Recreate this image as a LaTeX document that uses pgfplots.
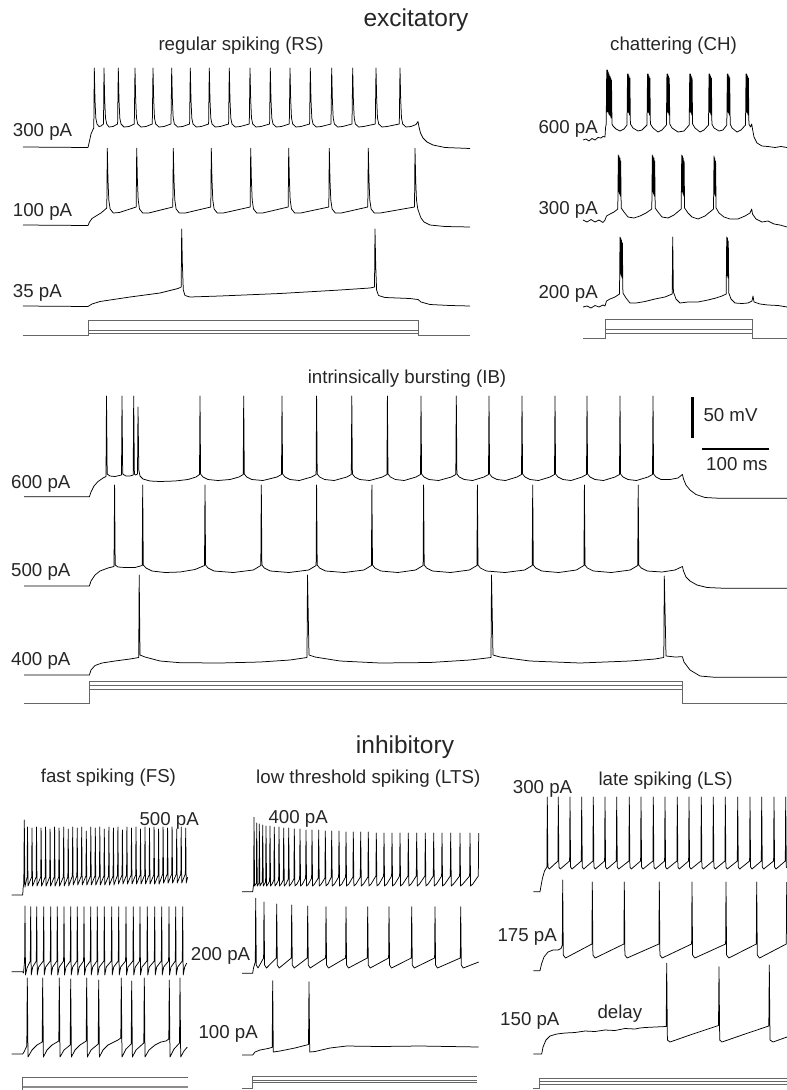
\documentclass[border=0pt]{standalone}
\usepackage{pgfplots}
\pgfplotsset{compat=1.18}
\usepackage{fontspec}
\setmainfont{Liberation Sans}
\tikzset{
  tr/.style={black, line width=0.75pt, line join=round},
  st/.style={black!60, line width=0.75pt, line join=miter},
  lab/.style={text=black!85, font=\fontsize{18.7}{22}\selectfont, inner sep=0pt},
  big/.style={text=black!85, font=\fontsize{24.5}{28}\selectfont, inner sep=0pt}
}
\begin{document}
\begin{tikzpicture}
\useasboundingbox (0,0) rectangle (787pt,1090pt);
\begin{axis}[at={(0pt,0pt)}, anchor=south west, width=787pt, height=1090pt, scale only axis,
  xmin=0, xmax=787, ymin=0, ymax=1090, y dir=reverse, hide axis, clip=false]
% ---------------- titles ----------------
\node[big, anchor=base] at (axis cs:416,26) {excitatory};
\node[lab, anchor=base west] at (axis cs:158.3,50.7) {regular spiking (RS)};
\node[lab, anchor=base west] at (axis cs:610,50.7) {chattering (CH)};
\node[lab, anchor=base] at (axis cs:407,383.5) {intrinsically bursting (IB)};
\node[big, anchor=base] at (axis cs:405,753) {inhibitory};
\node[lab, anchor=base west] at (axis cs:40.7,782.7) {fast spiking (FS)};
\node[lab, anchor=base west] at (axis cs:256,783.3) {low threshold spiking (LTS)};
\node[lab, anchor=base west] at (axis cs:598.3,785) {late spiking (LS)};
% ---------------- labels ----------------
\node[lab, anchor=base west] at (axis cs:12.7,136) {300 pA};
\node[lab, anchor=base west] at (axis cs:12.7,216) {100 pA};
\node[lab, anchor=base west] at (axis cs:12.7,297.7) {35 pA};
\node[lab, anchor=base west] at (axis cs:538.3,133.3) {600 pA};
\node[lab, anchor=base west] at (axis cs:538.3,214) {300 pA};
\node[lab, anchor=base west] at (axis cs:538.3,298.3) {200 pA};
\node[lab, anchor=base west] at (axis cs:11,488.3) {600 pA};
\node[lab, anchor=base west] at (axis cs:11,576.7) {500 pA};
\node[lab, anchor=base west] at (axis cs:11,665.7) {400 pA};
\node[lab, anchor=base west] at (axis cs:703.3,421.7) {50 mV};
\node[lab, anchor=base west] at (axis cs:706,470.7) {100 ms};
\node[lab, anchor=base west] at (axis cs:139.3,825) {500 pA};
\node[lab, anchor=base west] at (axis cs:190.7,960) {200 pA};
\node[lab, anchor=base west] at (axis cs:198.3,1038.3) {100 pA};
\node[lab, anchor=base west] at (axis cs:268.3,823.3) {400 pA};
\node[lab, anchor=base west] at (axis cs:512.7,793.3) {300 pA};
\node[lab, anchor=base west] at (axis cs:497.3,941.7) {175 pA};
\node[lab, anchor=base west] at (axis cs:500,1025) {150 pA};
\node[lab, anchor=base west] at (axis cs:597.3,1018.3) {delay};
% ---------------- scale bars ----------------
\addplot[black, line width=2.7pt] coordinates {(692.3,397.3) (692.3,438.3)};
\addplot[black, line width=2.7pt] coordinates {(702.3,449) (769.3,449)};
% ================= RS =================
\addplot[tr] coordinates {(23,147)(88,147.5)(89.5,141)(91,134)(93,129.5)(93.8,128)
(94.3,68)(95,100)(95.8,118)(97,124)(99,126.5)(101,126)(103.5,124)
(104,68)(104.7,100)(105.5,118)(106.7,124)(109,127)(113,126.5)(117.6,124)
(118.3,68)(119,100)(119.8,118)(121,124)(124,127)(129,126.5)(134.3,124)
(135,68)(135.7,100)(136.5,118)(137.7,124)(141,127)(146,126.5)(152.3,124)
(153,68)(153.7,100)(154.5,118)(155.7,124)(159,127)(164,126.5)(171,124)
(171.7,68)(172.4,100)(173.2,118)(174.4,124)(177.7,127)(182.7,126.5)(189.6,124)
(190.3,68)(191,100)(191.8,118)(193,124)(196.3,127)(201.3,126.5)(208.6,124)
(209.3,68)(210,100)(210.8,118)(212,124)(215.3,127)(220.3,126.5)(228.6,124)
(229.3,68)(230,100)(230.8,118)(232,124)(235.3,127)(240.3,126.5)(249.3,124)
(250,68)(250.7,100)(251.5,118)(252.7,124)(256,127)(261,126.5)(269.6,124)
(270.3,68)(271,100)(271.8,118)(273,124)(276.3,127)(281.3,126.5)(289.3,124)
(290,68)(290.7,100)(291.5,118)(292.7,124)(296,127)(301,126.5)(309.6,124)
(310.3,68)(311,100)(311.8,118)(313,124)(316.3,127)(321.3,126.5)(331,124)
(331.7,68)(332.4,100)(333.2,118)(334.4,124)(337.7,127)(342.7,126.5)(352,124)
(352.7,68)(353.4,100)(354.2,118)(355.4,124)(358.7,127)(363.7,126.5)(375.3,124)
(376,68)(376.7,100)(377.5,118)(378.7,124)(382,127)(387,126.5)(399.3,124)
(400,68)(400.7,100)(401.5,118)(402.7,124)(406,127)(411,126.5)(416,124.5)(418,121.5)(419,127)(420.5,133)(423,138)(427,142)(433,145)(445,147.5)(470,148.5)};
\addplot[tr] coordinates {(23,225)(88,225.5)(89.5,222)(92,218.5)(96,216)(101,213)(106.8,208)
(107.3,148.3)(108,180)(108.8,200)(110.1,209)(113.3,213)(119.3,212.5)(136.2,207)
(136.7,148.3)(137.4,180)(138.2,200)(139.5,209)(142.7,213)(148.7,213)(172.8,207)
(173.3,148.3)(174,180)(174.8,200)(176.1,209)(179.3,213)(185.3,213)(210.8,207)
(211.3,148.3)(212,180)(212.8,200)(214.1,209)(217.3,213)(223.3,213)(250.2,207)
(250.7,148.3)(251.4,180)(252.2,200)(253.5,209)(256.7,213)(262.7,213)(288.2,207)
(288.7,148.3)(289.4,180)(290.2,200)(291.5,209)(294.7,213)(300.7,213)(328.8,207)
(329.3,148.3)(330,180)(330.8,200)(332.1,209)(335.3,213)(341.3,213)(367.8,207)
(368.3,148.3)(369,180)(369.8,200)(371.1,209)(374.3,213)(380.3,213)(414.5,207)
(415,148.3)(415.7,180)(416.5,200)(417.8,209)(419.5,214)(421,218)(424,222)(430,225)(445,226.5)(470,227)};
\addplot[tr] coordinates {(23,306)(88,306.5)(92,304)(100,301.5)(130,297)(160,293)(178,288.5)(181.2,287)
(181.7,229)(182.4,265)(183.3,290)(185,295.5)(190,297)(220,296)(280,293.5)(340,290)(370,288)(374.5,287)
(375,229)(375.7,265)(376.6,290)(378.5,295.5)(385,297.5)(410,298.5)(418,299.5)(421,302)(430,304.5)(450,305.5)(470,306)};
\addplot[st] coordinates {(23,335)(88.3,335)(88.3,320)(418.3,320)(418.3,335)(470,335)};
\addplot[st] coordinates {(88.3,330)(418.3,330)};
\addplot[st] coordinates {(88.3,333.5)(418.3,333.5)};
% ================= CH =================
\addplot[tr] coordinates {(583,140)(586,139)(589,141)(592,138.5)(595,140)(598,137.5)(601,138)(603,136.5)(605,137)(605.5,128)(606.2,124)
(606.7,70)(607.1,112)(607.5,70)(607.9,112)(608.3,72)(608.7,114)(609.1,74)(609.5,115)(609.9,76)(610.3,116)(610.7,78)(611.1,118)(611.5,80)(612,124)(613,126)(616,129)(620,131)(624,129)(627,125)
(627.5,74)(627.9,112)(628.3,74)(628.7,113)(629.1,76)(629.5,115)(629.9,78)(630.4,124)(633,128)(638,131)(642,130)(647,125)
(647.5,74)(647.9,112)(648.3,74)(648.7,113)(649.1,76)(649.5,115)(649.9,78)(650.4,124)(653,128)(658,132)(662,130)(666.4,125)
(666.9,74)(667.3,112)(667.7,74)(668.1,113)(668.5,76)(668.9,115)(669.3,78)(669.8,124)(672,128)(678,132)(684,131)(689.2,125)
(689.7,74)(690.1,112)(690.5,74)(690.9,113)(691.3,76)(691.7,115)(692.1,78)(692.6,124)(695,128)(700,132)(704,130)(708.5,125)
(709,74)(709.4,112)(709.8,74)(710.2,113)(710.6,76)(711,115)(711.4,78)(711.9,124)(714,128)(719,131)(723,130)(726.8,125)
(727.3,74)(727.7,112)(728.1,74)(728.5,113)(728.9,76)(729.3,115)(729.7,78)(730.2,124)(732,128)(737,132)(741,130)(745.5,125)
(746,74)(746.4,112)(746.8,74)(747.2,113)(747.6,76)(748,115)(748.4,78)(748.9,124)(750.5,127)(751.7,124)(752.5,129)(754,137)(757,143)(762,146)(768,146.5)(775,147.5)(781,146.5)(787,147.5)};
\addplot[tr] coordinates {(583,220)(587,222)(591,219.5)(595,222)(599,220)(603,222.5)(605,220)(606.5,216)(610,214)(614,212)(617.8,209)
(618.3,155)(618.7,192)(619.1,156)(619.5,194)(619.9,158)(620.3,196)(620.7,161)(621.2,208)(624,212)(628,217)(634,218)(640,216)(646,213)(651.8,209)
(652.3,155)(652.7,192)(653.1,156)(653.5,194)(653.9,158)(654.3,196)(654.7,161)(655.2,208)(658,212)(662,217)(668,218)(674,215)(681.2,209)
(681.7,155)(682.1,192)(682.5,156)(682.9,194)(683.3,158)(683.7,196)(684.1,161)(684.6,208)(688,213)(692,217)(698,219)(705,216)(713.5,209)
(714,156)(714.4,194)(714.8,158)(715.2,196)(715.6,161)(716.1,208)(719,213)(724,217)(730,219)(738,219)(745,216)(750,213)(751.7,209)(752.5,214)(756,219)(762,222)(768,221)(774,224)(780,225)(787,227)};
\addplot[tr] coordinates {(583,307)(587,306)(591,308)(595,305.5)(599,307)(603,305)(605,306)(606.5,301)(610,299)(615,297)(619.5,294)
(620,237)(620.4,274)(620.8,238)(621.2,276)(621.6,240)(622,278)(622.4,243)(622.9,293)(626,298)(630,303)(636,303)(645,301.5)(655,299)(665,297)(672.2,294)
(672.7,237)(673.4,292)(676,299)(680,303)(688,302)(698,302)(708,300)(716,298)(722,296)(726.2,294)
(726.7,237)(727.1,276)(727.5,238)(727.9,278)(728.3,241)(728.8,293)(731,299)(735,303)(742,303.5)(748,303)(752,301)(753,296)(754,302)(760,304)(768,305)(778,305.5)(787,307)};
\addplot[st] coordinates {(583,338.3)(605,338.3)(605,319.3)(752.3,319.3)(752.3,338.3)(787,338.3)};
\addplot[st] coordinates {(605,329.3)(752.3,329.3)};
\addplot[st] coordinates {(605,333.3)(752.3,333.3)};
% ================= IB =================
\addplot[tr] coordinates {(24,496.7)(89.4,496.7)(91,492)(94,486)(98,481.5)(103,478)(106,476.5)
(106.5,396)(107.2,474)(110,476)(115,476.5)(121.5,475)
(122,396)(122.7,474)(126,476)(130,476)(133.2,475)
(133.7,396)(134.4,474)(135.5,475)(137.5,474)
(138,407)(138.8,470)(140,476)(143,479)(150,481)(160,481.5)(175,481)(188,479.5)(196,477)(199.5,474.5)
(200,396)(200.6,474)(203,477)(208,479.5)(218,480.5)(230,479.5)(239,477)(243.2,474.5)
(243.7,396)(244.3,474)(246.7,477)(251.7,479.5)(262.9,480.5)(277,477)(281.5,474.5)
(282,396)(282.6,474)(285,477)(290,479.5)(299.3,480.5)(311.6,477)(316.1,474.5)
(316.6,396)(317.2,474)(319.6,477)(324.6,479.5)(334.2,480.5)(346.8,477)(351.3,474.5)
(351.8,396)(352.4,474)(354.8,477)(359.8,479.5)(369.6,480.5)(382.4,477)(386.9,474.5)
(387.4,396)(388,474)(390.4,477)(395.4,479.5)(404.2,480.5)(416,477)(420.5,474.5)
(421,396)(421.6,474)(424,477)(429,479.5)(438.6,480.5)(451.3,477)(455.8,474.5)
(456.3,396)(456.9,474)(459.3,477)(464.3,479.5)(472.6,480.5)(484,477)(488.5,474.5)
(489,396)(489.6,474)(492,477)(497,479.5)(505.5,480.5)(517,477)(521.5,474.5)
(522,396)(522.6,474)(525,477)(530,479.5)(538.5,480.5)(550,477)(554.5,474.5)
(555,396)(555.6,474)(558,477)(563,479.5)(571,480.5)(582,477)(586.5,474.5)
(587,396)(587.6,474)(590,477)(595,479.5)(603.5,480.5)(615,477)(619.5,474.5)
(620,396)(620.6,474)(623,477)(628,479.5)(636.5,480.5)(648,477)(652.5,474.5)
(653,396)(653.6,474)(656,477)(661,479.5)(670,479.5)(678,478)(682.4,474.5)(683.5,479)(686,485)(690,490)(696,494.5)(705,497.5)(720,498.3)(787,498.3)};
\addplot[tr] coordinates {(24,586)(89.4,586)(91,581)(95,575)(100,571)(108,568)(114,566.5)
(114.6,485)(115.2,565)(118,567)(125,567.5)(135,567.5)(142.2,565.5)
(142.7,485)(143.3,565)(146,568)(152,571)(165,572.5)(180,572)(195,569.5)(204.5,565.5)
(205,485)(205.6,565)(208,568)(214,571)(233.2,572.5)(253.3,570)(260.8,565.5)
(261.3,485)(261.9,565)(264.3,568)(270.3,571)(289,572.5)(308.6,570)(316.1,565.5)
(316.6,485)(317.2,565)(319.6,568)(325.6,571)(344.3,572.5)(363.9,570)(371.4,565.5)
(371.9,485)(372.5,565)(374.9,568)(380.9,571)(397.8,572.5)(415.6,570)(423.1,565.5)
(423.6,485)(424.2,565)(426.6,568)(432.6,571)(450.5,572.5)(469.4,570)(476.9,565.5)
(477.4,485)(478,565)(480.4,568)(486.4,571)(505,572.5)(524.7,570)(532.2,565.5)
(532.7,485)(533.3,565)(535.7,568)(541.7,571)(558.6,572.5)(576.4,570)(583.9,565.5)
(584.4,485)(585,565)(587.4,568)(593.4,571)(611.3,572.5)(630.2,570)(637.7,565.5)
(638.2,485)(638.8,565)(641.2,568)(647.2,571)(662,572)(675,570)(682.4,566.5)(683.5,571)(686,577)(690,581)(697,585)(707,587.5)(725,588.3)(787,588.3)};
\addplot[tr] coordinates {(24,675)(89.4,675)(91,670)(95,665.5)(102,663)(115,661)(130,659)(138.7,657.5)
(139.2,575)(140,655)(145,657)(160,661)(180,662.7)(220,663)(260,662)(290,660)(307,657.5)
(307.5,575)(309,655)(315,657)(340,661)(380,663)(430,662.5)(470,660)(491,657.5)
(491.5,575)(493,655)(500,657)(530,661)(580,663)(630,661)(655,659)(663.8,657.5)
(664.3,576)(666,656)(675,657)(682.4,656.7)(684,662)(690,670)(700,676)(715,677.3)(787,677.3)};
\addplot[st] coordinates {(24,703.3)(89.4,703.3)(89.4,681)(682.4,681)(682.4,703.3)(787,703.3)};
\addplot[st] coordinates {(89.4,685)(682.4,685)};
\addplot[st] coordinates {(89.4,689.3)(682.4,689.3)};
% ================= FS =================
\addplot[tr] coordinates {(11.7,895)(22.7,895)(23.2,887)(23.8,884)(24.3,820)(24.9,887)
(27.15,877)(27.5,827)(28,886)(31.65,877)(32,828)(32.5,886)(36.15,877)(36.5,827)(37,886)
(40.75,877)(41.1,828)(41.6,886)(45.25,877)(45.6,827)(46.1,886)(49.75,877)(50.1,829)(50.6,886)
(54.25,877)(54.6,827)(55.1,886)(58.75,877)(59.1,828)(59.6,886)(63.35,877)(63.7,827)(64.2,886)
(67.85,877)(68.2,829)(68.7,886)(72.35,876)(72.7,827)(73.2,885)(76.85,876)(77.2,828)(77.7,885)
(81.35,876)(81.7,827)(82.2,885)(85.95,876)(86.3,831)(86.8,885)(90.45,876)(90.8,827)(91.3,885)
(94.95,876)(95.3,828)(95.8,885)(99.45,876)(99.8,827)(100.3,885)(103.95,876)(104.3,829)(104.8,885)
(108.55,876)(108.9,827)(109.4,885)(113.05,876)(113.4,828)(113.9,885)(117.55,875)(117.9,827)(118.4,884)
(122.05,875)(122.4,830)(122.9,884)(126.55,875)(126.9,827)(127.4,884)(131.15,875)(131.5,828)(132,884)
(135.65,875)(136,827)(136.5,884)(140.15,875)(140.5,829)(141,884)(144.65,875)(145,827)(145.5,884)
(149.15,875)(149.5,828)(150,884)(153.75,875)(154.1,827)(154.6,884)(158.25,875)(158.6,829)(159.1,884)
(162.75,874)(163.1,827)(163.6,883)(167.25,874)(167.6,828)(168.1,883)(171.75,874)(172.1,827)(172.6,883)
(176.35,874)(176.7,829)(177.2,883)(180.85,874)(181.2,827)(181.7,883)(185.35,874)(185.7,828)(186.2,883)(187.7,877)};
\addplot[tr] coordinates {(11.7,971.7)(22.7,971.7)(23.5,973)
(24.6,961)(25,906)(25.5,975)(27,968)(30.3,961)(30.7,906.7)(31.2,975)(32.7,967)
(36.3,961)(36.7,906.7)(37.2,975)(38.7,967)(43.3,961)(43.7,906.7)(44.2,975)(45.7,967)
(50.3,961)(50.7,906.7)(51.2,975)(52.7,967)(56.9,961)(57.3,906.7)(57.8,975)(59.3,967)
(63.6,961)(64,906.7)(64.5,975)(66,967)(70.3,961)(70.7,906.7)(71.2,975)(72.7,967)
(76.9,961)(77.3,906.7)(77.8,975)(79.3,967)(83.6,961)(84,906.7)(84.5,975)(86,967)
(90.3,961)(90.7,906.7)(91.2,975)(92.7,967)(96.9,961)(97.3,906.7)(97.8,975)(99.3,967)
(103.9,961)(104.3,906.7)(104.8,975)(106.3,967)(111.3,961)(111.7,906.7)(112.2,975)(113.7,967)
(118.3,961)(118.7,906.7)(119.2,975)(120.7,967)(125.6,961)(126,906.7)(126.5,975)(128,967)
(132.9,961)(133.3,906.7)(133.8,975)(135.3,967)(139.6,961)(140,906.7)(140.5,975)(142,967)
(146.9,961)(147.3,906.7)(147.8,975)(149.3,967)(154.3,961)(154.7,906.7)(155.2,975)(156.7,967)
(161.3,961)(161.7,906.7)(162.2,975)(163.7,967)(168.6,961)(169,906.7)(169.5,975)(171,967)
(175.3,961)(175.7,906.7)(176.2,975)(177.7,967)(182.3,961)(182.7,906.7)(183.2,975)(184.7,967)(186.7,963)};
\addplot[tr] coordinates {(11.7,1054)(22.7,1054)(24,1052)(26.8,1046)
(27.3,978)(28,1057)(32,1050)(37,1045)(42.2,1042)
(42.7,978)(43.4,1057)(47,1050)(52,1045)(58.8,1041)
(59.3,978)(60,1057)(64,1050)(70.2,1045)
(70.7,979)(71.4,1057)(75,1050)(80,1045)(86.2,1041)
(86.7,978)(87.4,1057)(91,1050)(98.2,1044)
(98.7,980)(99.4,1057)(103,1050)(108,1045)(114,1042)(118,1040)(120.8,1038)
(121.3,978)(122,1057)(126,1049)(131.2,1044)
(131.7,981)(132.4,1057)(136,1050)(143.8,1043)
(144.3,978)(145,1057)(149,1050)(155,1045)(161,1042)(166,1041)(168.8,1039)
(169.3,980)(170,1057)(174,1049)(179.5,1043)
(180,978)(180.7,1057)(184,1051)(187.3,1047)};
\addplot[st] coordinates {(22.7,1090)(22.7,1077.3)(188.3,1077.3)};
\addplot[black!45, line width=1.6pt] coordinates {(22.7,1086.7)(188.3,1086.7)};
% ================= LTS =================
\addplot[tr] coordinates {(242,891.7)(252.7,891.7)(253.3,887)(253.7,884)
(254,817.3)(254.6,886)(256.4,883)(256.7,823)(257.3,886)(259,883)(259.3,824)(259.9,886)(262.3,882)
(262.7,825)(263.3,886)(265.6,882)(266,826)(266.6,886)(268,884)(269.6,881)
(270,826)(270.6,886)(272,884)(273.9,880)(274.3,827)(274.9,886)(276.5,884)(278.6,880)
(279,827)(279.6,886)(281.2,884)(283.3,880)(283.7,828)(284.3,886)(286,884)(288.3,879)
(288.7,828)(289.3,886)(291,884)(293.9,879)(294.3,829)(294.9,886)(297,884)(299.6,879)
(300,829)(300.6,886)(302.5,884)(305.6,878)(306,830)(306.6,886)(308.5,884)(311.6,878)
(312,830)(312.6,886)(314.5,884)(318.3,878)(318.7,830)(319.3,886)(321.3,884)(324.9,878)
(325.3,831)(325.9,886)(328,884)(331.3,877)(331.7,831)(332.3,886)(334.5,884)(338.6,877)
(339,831)(339.6,886)(341.8,884)(345.6,877)(346,832)(346.6,886)(348.8,884)(352.9,877)
(353.3,832)(353.9,886)(356.1,884)(360.3,877)(360.7,832)(361.3,886)(363.5,884)(367.9,877)
(368.3,832)(368.9,886)(371.1,884)(375.9,876)(376.3,833)(376.9,886)(379.1,884)(383.6,876)
(384,833)(384.6,886)(386.8,884)(391.6,876)(392,833)(392.6,886)(394.8,884)(399.6,876)
(400,833)(400.6,886)(402.8,884)(407.9,876)(408.3,833)(408.9,886)(411.1,884)(416.3,876)
(416.7,833)(417.3,886)(419.5,884)(424.9,876)(425.3,833)(425.9,886)(428.1,884)(433.3,876)
(433.7,833)(434.3,886)(436.5,884)(441.6,876)(442,833)(442.6,886)(444.8,884)(450.3,876)
(450.7,833)(451.3,886)(453.5,884)(459.6,876)(460,833)(460.6,886)(462.8,884)(469.6,876)
(470,833)(470.6,886)(472.8,884)(478.3,876)(478.7,833)};
\addplot[tr] coordinates {(242,973.3)(252.7,973.3)(253.5,968)(255.3,962)
(255.7,898.3)(256.3,965)(258,968)(263.6,958)
(264,902)(264.6,965)(266.5,968)(276.3,958)
(276.7,904)(277.3,965)(279.2,968)(291.3,958)
(291.7,905)(292.3,965)(294.2,968)(307.3,958)
(307.7,906)(308.3,965)(310.2,968)(325.6,958)
(326,906.7)(326.6,965)(328.5,968)(345.6,958)
(346,906.7)(346.6,965)(348.5,968)(367.3,958)
(367.7,906.7)(368.3,965)(370.2,968)(388.6,958)
(389,906.7)(389.6,965)(391.5,968)(411.3,958)
(411.7,906.7)(412.3,965)(414.2,968)(434.6,958)
(435,906.7)(435.6,965)(437.5,968)(460.3,958)
(460.7,906.7)(461.3,965)(463.2,968)(478.7,962)};
\addplot[tr] coordinates {(242,1055)(252.7,1055)(255,1052)(260,1050)(268,1048.5)(272.2,1047.3)
(272.7,980.7)(273.3,1052)(280,1051)(295,1048)(308.5,1044.5)
(309,981.7)(309.7,1052)(315,1051.5)(330,1048)(346.7,1046)(380,1046.5)(420,1046)(478.7,1047)};
\addplot[st] coordinates {(242,1088.3)(252.7,1088.3)(252.7,1076)(476.7,1076)};
\addplot[st] coordinates {(252.7,1080)(476.7,1080)};
\addplot[st] coordinates {(252.7,1082.7)(476.7,1082.7)};
% ================= LS =================
\addplot[tr] coordinates {(533.3,891.7)(540,891.7)(541,886)(542.5,878)(544.5,871)(546.9,867)
(547.3,797)(547.9,867)(549.3,869)(557.9,861)(558.3,797)(558.9,867)(560.3,869)(569.6,861)
(570,797)(570.6,867)(572,869)(581.3,861)(581.7,797)(582.3,867)(583.7,869)(592.9,861)
(593.3,797)(593.9,867)(595.3,869)(604.6,861)(605,797)(605.6,867)(607,869)(616.3,861)
(616.7,797)(617.3,867)(618.7,869)(628.9,861)(629.3,797)(629.9,867)(631.3,869)(640.6,861)
(641,797)(641.6,867)(643,869)(652.9,861)(653.3,797)(653.9,867)(655.3,869)(664.6,861)
(665,797)(665.6,867)(667,869)(676.9,861)(677.3,797)(677.9,867)(679.3,869)(688.6,861)
(689,797)(689.6,867)(691,869)(700.9,861)(701.3,797)(701.9,867)(703.3,869)(712.9,861)
(713.3,797)(713.9,867)(715.3,869)(724.9,861)(725.3,797)(725.9,867)(727.3,869)(737.3,861)
(737.7,797)(738.3,867)(739.7,869)(749.6,861)(750,797)(750.6,867)(752,869)(761.3,861)
(761.7,797)(762.3,867)(763.7,869)(773.6,861)(774,797)(774.6,867)(776,869)(785.3,861)
(785.7,797)(786.3,867)(787,868)};
\addplot[tr] coordinates {(533.3,970.7)(540,970.7)(541.5,964)(544,957)(548,952)(553,950)(558,950)(561,948.5)(562.3,945)
(562.7,880)(563.3,955)(565.5,958)(591.9,944)
(592.3,882)(592.9,955)(595.1,958)(623.9,944)
(624.3,882)(624.9,955)(627.1,958)(658.9,944)
(659.3,882)(659.9,955)(662.1,958)(691.6,944)
(692,882)(692.6,955)(694.8,958)(725.6,944)
(726,882)(726.6,955)(728.8,958)(756.3,944)
(756.7,882)(757.3,955)(759.5,958)(786.3,944)(786.7,882)};
\addplot[tr] coordinates {(533.3,1054)(541.7,1054)(543,1047)(546,1040)(550,1036)(556.7,1034)(565,1033)(575,1032.5)(585,1031)(595,1031.5)(605,1030)(615,1030.5)(625,1028.5)(635,1029)(640,1028)(645,1027.5)(655,1027)(666.2,1026.5)
(666.7,963.3)(667.4,1040)(670,1042)(690,1035)(718.5,1025.5)
(719,966.7)(719.7,1040)(722,1042)(745,1034)(768.8,1026)
(769.3,965)(770,1040)(773,1042)(787,1037)};
\addplot[st] coordinates {(533.3,1088.3)(539.3,1088.3)(539.3,1078.3)(787,1078.3)};
\addplot[st] coordinates {(539.3,1081.7)(787,1081.7)};
\addplot[st] coordinates {(539.3,1084)(787,1084)};
\end{axis}
\end{tikzpicture}
\end{document}
